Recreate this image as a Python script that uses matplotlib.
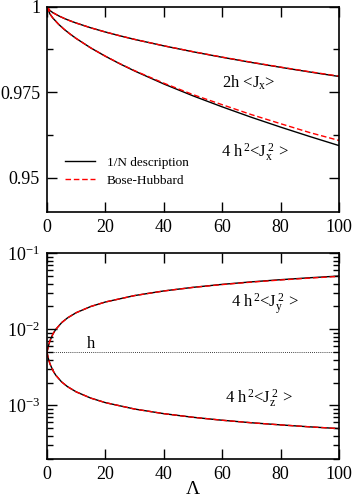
import matplotlib
matplotlib.use("Agg")
from matplotlib import pyplot as plt
from matplotlib.ticker import MultipleLocator, LogLocator, NullFormatter
import numpy as np

# ---- data ----
lam_top = [0, 1, 2, 4, 6, 8, 10, 15, 20, 25, 30, 40, 50, 60, 70, 80, 90, 100]
jx_n = [1.0, 0.99888, 0.99826, 0.99732, 0.99653, 0.99584, 0.99522, 0.99382, 0.9926,
        0.99148, 0.99044, 0.98855, 0.98682, 0.98521, 0.9837, 0.98228, 0.98091, 0.9796]
jx_bh = [1.0, 0.99888, 0.99826, 0.99732, 0.99653, 0.99584, 0.99522, 0.99382, 0.9926,
         0.99148, 0.99044, 0.98857, 0.98686, 0.98526, 0.98376, 0.98234, 0.98098, 0.9797]
jx2_n = [1.0, 0.99787, 0.99668, 0.99483, 0.99329, 0.99194, 0.9907, 0.98794, 0.98551,
         0.98328, 0.98121, 0.97741, 0.97394, 0.97072, 0.96767, 0.9648, 0.96205, 0.9594]
jx2_bh = [1.0, 0.99787, 0.99668, 0.99483, 0.99329, 0.99194, 0.9907, 0.98794, 0.98553,
          0.98333, 0.9813, 0.97765, 0.9743, 0.97135, 0.96845, 0.9658, 0.9632, 0.9609]

lam_bot = [0, 0.5, 1, 2, 3, 5, 7, 10, 15, 20, 30, 40, 50, 60, 70, 80, 90, 100]
jy2_n = [0.005, 0.00612, 0.00707, 0.00866, 0.01, 0.01225, 0.01414, 0.01658, 0.02,
         0.02291, 0.02784, 0.03202, 0.03571, 0.03905, 0.04213, 0.045, 0.0477, 0.05025]
jy2_bh = [0.005, 0.00612, 0.00707, 0.00866, 0.01, 0.01225, 0.01414, 0.01658, 0.02,
          0.02291, 0.02782, 0.03196, 0.0356, 0.0388, 0.0418, 0.0446, 0.0472, 0.0497]
jz2_n = [0.005, 0.00408, 0.00354, 0.00289, 0.0025, 0.00204, 0.00177, 0.00151, 0.00125,
         0.00109, 0.000898, 0.000781, 0.0007, 0.00064, 0.000593, 0.000556, 0.000524, 0.000497]
jz2_bh = jz2_n
h = 0.005

plt.rcParams['font.family'] = ['Liberation Serif', 'DejaVu Serif']
plt.rcParams['mathtext.fontset'] = 'custom'
plt.rcParams['mathtext.rm'] = 'Liberation Serif'
plt.rcParams['mathtext.it'] = 'Liberation Serif:italic'
plt.rcParams['xtick.direction'] = 'in'
plt.rcParams['ytick.direction'] = 'in'
plt.rcParams['xtick.top'] = True
plt.rcParams['ytick.right'] = True

fig = plt.figure(figsize=(3.54, 4.99), dpi=100)
ax1 = fig.add_axes([0.1328, 0.5752, 0.8249, 0.4114])
ax2 = fig.add_axes([0.1328, 0.0808, 0.8249, 0.4116])

# ---- top panel ----
ax1.plot(lam_top, jx_n, color='k', lw=1.0)
ax1.plot(lam_top, jx2_n, color='k', lw=1.0, label='1/N description')
ax1.plot(lam_top, jx_bh, color='r', lw=1.0, ls=(0, (4, 2)))
ax1.plot(lam_top, jx2_bh, color='r', lw=1.0, ls=(0, (4, 2)), label='Bose-Hubbard')
ax1.set_xlim(0, 100)
ax1.set_ylim(0.94, 1.0)
ax1.xaxis.set_major_locator(MultipleLocator(20))
ax1.yaxis.set_major_locator(MultipleLocator(0.025))
ax1.yaxis.set_minor_locator(MultipleLocator(0.0125))
ax1.set_yticklabels([], minor=True)
ax1.yaxis.set_major_formatter(plt.FuncFormatter(lambda v, p: ('%g' % round(v, 4))))
ax1.text(60, 0.9763, r'2h <J$_{\rm x}$>', fontsize=12)
ax1.text(59.6, 0.9562, r'4 h$^{\,2}$<J$_{\rm x}^{\;2}$ >', fontsize=12)
ax1.legend(loc='lower left', bbox_to_anchor=(0.02, 0.065), frameon=False, fontsize=9.5,
           handlelength=2.3, handletextpad=0.9, labelspacing=0.45)

# ---- bottom panel ----
ax2.set_yscale('log')
ax2.plot(lam_bot, jy2_n, color='k', lw=1.0)
ax2.plot(lam_bot, jz2_n, color='k', lw=1.0)
ax2.plot(lam_bot, jy2_bh, color='r', lw=1.0, ls=(0, (4, 2)))
ax2.plot(lam_bot, jz2_bh, color='r', lw=1.0, ls=(0, (4, 2)))
ax2.axhline(h, color='k', lw=0.6, ls=(0, (1, 1.5)))
ax2.set_xlim(0, 100)
ax2.set_ylim(2e-4, 1e-1)
ax2.xaxis.set_major_locator(MultipleLocator(20))
ax2.yaxis.set_major_locator(LogLocator(base=10, numticks=10))
ax2.yaxis.set_minor_locator(LogLocator(base=10, subs=np.arange(2, 10), numticks=10))
ax2.yaxis.set_minor_formatter(NullFormatter())
ax2.text(13.7, 0.0057, 'h', fontsize=12)
ax2.text(63, 0.0194, r'4 h$^{\,2}$<J$_{\rm y}^{\;2}$ >', fontsize=12)
ax2.text(61, 0.00108, r'4 h$^{\,2}$<J$_{\rm z}^{\;2}$ >', fontsize=12)

for ax in (ax1, ax2):
    ax.tick_params(which='major', length=7, width=1.0, labelsize=13, pad=5)
    ax.tick_params(which='minor', length=4, width=1.0)
    for s in ax.spines.values():
        s.set_linewidth(1.2)

fig.text(193 / 354, 1 - 489 / 499, r'$\Lambda$', fontsize=14, ha='center', va='center')

fig.savefig('out.png', dpi=100)
